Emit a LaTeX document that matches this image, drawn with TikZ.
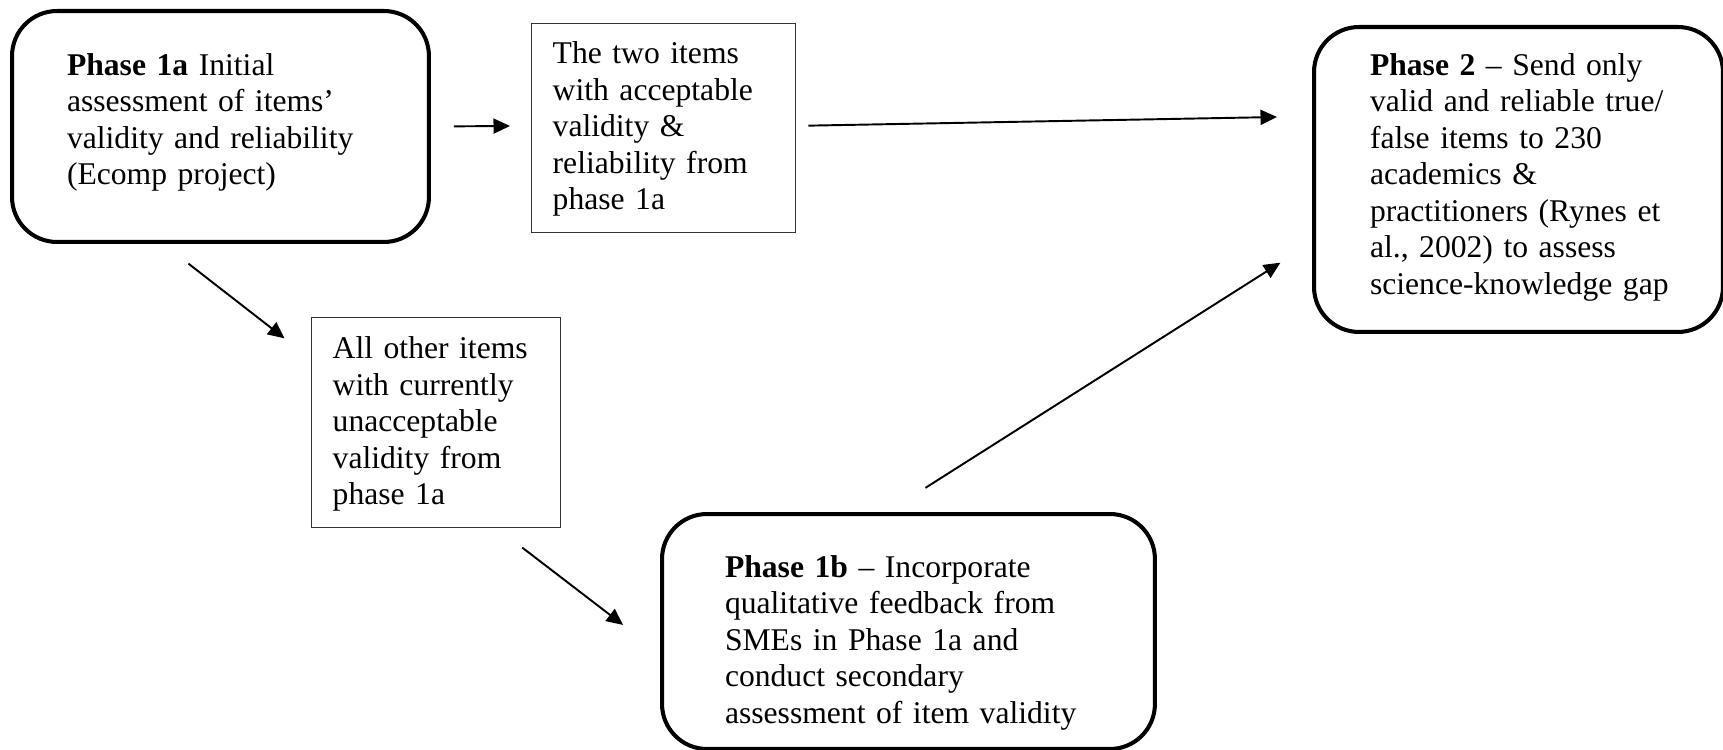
\documentclass[tikz,border=0pt]{standalone}
\usepackage{fontspec}
\setmainfont{Liberation Serif}
\usepackage{tikz}
\usetikzlibrary{calc,arrows.meta}

\begin{document}
\begin{tikzpicture}[x=0.02cm,y=-0.02cm,
  phase/.style={draw,line width=2.3pt,rounded corners=0.9cm,anchor=north west,inner ysep=0pt,align=left,font=\fontsize{18}{20.8}\selectfont},
  itembox/.style={draw=black!80,line width=0.8pt,anchor=north west,inner ysep=0pt,inner xsep=0.42cm,align=left,font=\fontsize{18}{20.8}\selectfont},
  arr/.style={-{Triangle[length=0.33cm,width=0.3cm]},line width=1.1pt}]
\useasboundingbox (0,0) rectangle (1723,750);

\node[phase,inner xsep=1.1cm,text width=6.14cm,text height=1.28cm,text depth=3.34cm] (p1a) at (10,9)
  {\textbf{Phase 1a} Initial\\assessment of items'\\validity and reliability\\(Ecomp project)};
\node[itembox,text width=4.44cm,text height=0.8cm,text depth=3.38cm] (two) at (531,23)
  {The two items\\with acceptable\\validity \&\\reliability from\\phase 1a};
\node[itembox,text width=4.14cm,text height=0.82cm,text depth=3.38cm] (other) at (311,317)
  {All other items\\with currently\\unacceptable\\validity from\\phase 1a};
\node[phase,inner xsep=1.12cm,text width=5.94cm,text height=0.96cm,text depth=5.14cm] (p2) at (1312,25)
  {\textbf{Phase 2} -- Send only\\valid and reliable true/\\false items to 230\\academics \&\\practitioners (Rynes et\\al., 2002) to assess\\\mbox{science-knowledge gap}};
\node[phase,inner xsep=1.26cm,text width=7.34cm,text height=1.26cm,text depth=3.44cm] (p1b) at (660,512)
  {\textbf{Phase 1b} -- Incorporate\\qualitative feedback from\\SMEs in Phase 1a and\\conduct secondary\\assessment of item validity};

\draw[arr,shorten <=0.46cm,shorten >=0.42cm] (p1a.east) -- (two.179);
\draw[arr,shorten <=0.24cm,shorten >=0.7cm] (two.1) -- (p2.163);
\draw[arr,shorten <=0.64cm,shorten >=0.67cm] (p1a.244) -- (other.153);
\draw[arr,shorten <=0.63cm,shorten >=0.93cm] (other.300) -- (p1b.185);
\draw[arr,shorten <=0.9cm,shorten >=0.75cm] (p1b.100) -- (p2.197);

\end{tikzpicture}
\end{document}
